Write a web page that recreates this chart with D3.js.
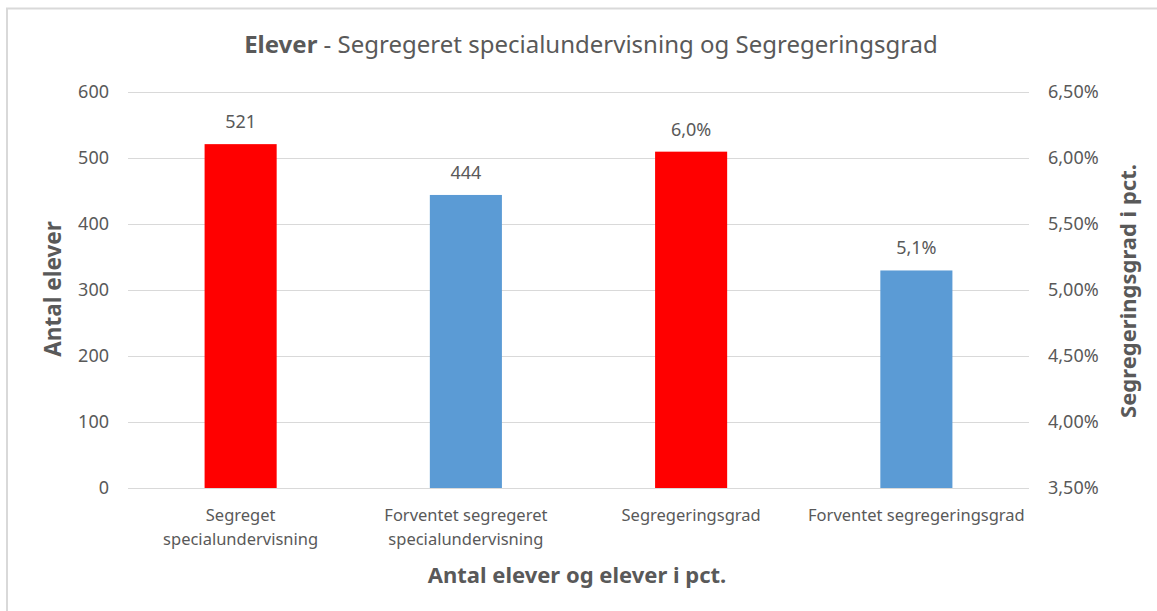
<!DOCTYPE html>
<html>
<head>
<meta charset="utf-8">
<script src="https://cdn.jsdelivr.net/npm/d3@7"></script>
<style>
  body { margin: 0; background: #fff; }
  svg text { font-family: "Liberation Sans Narrow", "Arial Narrow", "Noto Sans", sans-serif; fill: #595959; }
</style>
</head>
<body>
<svg id="chart" width="1157" height="611"></svg>
<script>
// data
const categories = [
  ['Segreget', 'specialundervisning'],
  ['Forventet segregeret', 'specialundervisning'],
  ['Segregeringsgrad'],
  ['Forventet segregeringsgrad']
];
const elever = [521, 444, null, null];          // venstre akse
const grad = [null, null, 6.048, 5.148];         // højre akse, pct.
const barColors = ['#ff0000', '#5b9bd5', '#ff0000', '#5b9bd5'];
const leftTicks = [0, 100, 200, 300, 400, 500, 600];
const rightTicks = [3.5, 4.0, 4.5, 5.0, 5.5, 6.0, 6.5];

const svg = d3.select('#chart');
const margin = { left: 128, right: 1029, top: 92, bottom: 488 };

// ramme
svg.append('path')
  .attr('d', 'M7,611 V8.5 H1157')
  .attr('fill', 'none')
  .attr('stroke', '#d9d9d9')
  .attr('stroke-width', 2);

const x = d3.scaleBand().domain(d3.range(categories.length))
  .range([margin.left, margin.right]).paddingInner(0.68).paddingOuter(0.34);
const yL = d3.scaleLinear().domain([0, 600]).range([margin.bottom, margin.top]);
const yR = d3.scaleLinear().domain([3.5, 6.5]).range([margin.bottom, margin.top]);

const fmtPct = d => d.toFixed(2).replace('.', ',') + '%';

// gitterlinjer
svg.append('g')
  .selectAll('line').data(leftTicks).enter().append('line')
  .attr('x1', margin.left).attr('x2', margin.right)
  .attr('y1', d => Math.round(yL(d)) + 0.5).attr('y2', d => Math.round(yL(d)) + 0.5)
  .attr('stroke', '#d9d9d9').attr('stroke-width', 1);

// venstre akse
const axL = svg.append('g')
  .attr('transform', `translate(${margin.left - 10},0)`)
  .call(d3.axisLeft(yL).tickValues(leftTicks).tickSize(0).tickPadding(9));
axL.select('.domain').remove();
axL.selectAll('text').style('font-size', '18px').attr('fill', '#595959');

// højre akse
const axR = svg.append('g')
  .attr('transform', `translate(${margin.right + 10},0)`)
  .call(d3.axisRight(yR).tickValues(rightTicks).tickFormat(fmtPct).tickSize(0).tickPadding(9));
axR.select('.domain').remove();
axR.selectAll('text').style('font-size', '18px').attr('fill', '#595959');

// søjler
const rows = categories.map((c, i) => ({ i, v: elever[i] != null ? elever[i] : grad[i], left: elever[i] != null }));
svg.append('g').selectAll('rect').data(rows).enter().append('rect')
  .attr('x', d => x(d.i))
  .attr('width', x.bandwidth())
  .attr('y', d => d.left ? yL(d.v) : yR(d.v))
  .attr('height', d => d.left ? yL(0) - yL(d.v) : yR(3.5) - yR(d.v))
  .attr('fill', d => barColors[d.i]);

// datalabels
svg.append('g').selectAll('text').data(rows).enter().append('text')
  .attr('x', d => x(d.i) + x.bandwidth() / 2)
  .attr('y', d => (d.left ? yL(d.v) : yR(d.v)) - 16)
  .attr('text-anchor', 'middle')
  .style('font-size', '18px')
  .text(d => d.left ? d.v : d.v.toFixed(1).replace('.', ',') + '%');

// kategorilabels
const cat = svg.append('g').selectAll('text').data(categories).enter().append('text')
  .attr('text-anchor', 'middle')
  .attr('x', (d, i) => x(i) + x.bandwidth() / 2)
  .attr('y', 521)
  .style('font-size', '16.5px');
cat.selectAll('tspan').data(d => d).enter().append('tspan')
  .attr('x', function () { return d3.select(this.parentNode).attr('x'); })
  .attr('dy', (d, i) => i === 0 ? 0 : 24)
  .text(d => d);

// titel
const title = svg.append('text')
  .attr('x', 591).attr('y', 53)
  .attr('text-anchor', 'middle')
  .style('font-size', '24px');
title.append('tspan').style('font-weight', 'bold').text('Elever');
title.append('tspan').text(' - Segregeret specialundervisning og Segregeringsgrad');

// aksetitler
svg.append('text')
  .attr('transform', 'translate(61,289) rotate(-90)')
  .attr('text-anchor', 'middle')
  .style('font-size', '22.5px').style('font-weight', 'bold')
  .text('Antal elever');

svg.append('text')
  .attr('transform', 'translate(1136,291) rotate(-90)')
  .attr('text-anchor', 'middle')
  .style('font-size', '22px').style('font-weight', 'bold')
  .text('Segregeringsgrad i pct.');

svg.append('text')
  .attr('x', 577).attr('y', 583)
  .attr('text-anchor', 'middle')
  .style('font-size', '22px').style('font-weight', 'bold')
  .text('Antal elever og elever i pct.');
</script>
</body>
</html>
